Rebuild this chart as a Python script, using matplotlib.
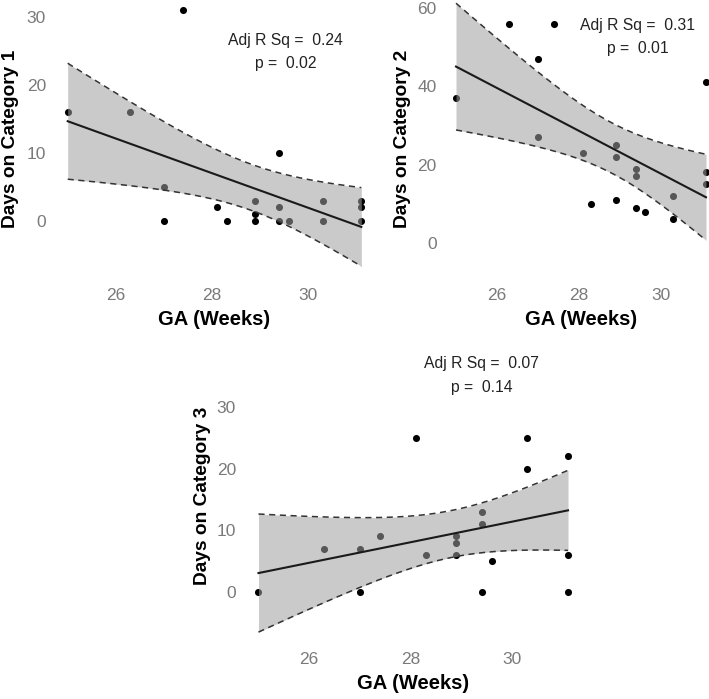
import numpy as np
import matplotlib.pyplot as plt

plt.rcParams['font.family'] = ['Liberation Sans', 'DejaVu Sans']

# GA (weeks) shared by all three panels
ga = [25.0, 26.3, 27.0, 27.0, 27.4, 28.1, 28.3, 28.9, 28.9, 28.9,
      29.4, 29.4, 29.4, 29.6, 30.3, 30.3, 31.1, 31.1, 31.1]

days_cat1 = [16, 16, 5, 0, 31, 2, 0, 3, 1, 0, 10, 2, 0, 0, 3, 0, 3, 2, 0]
days_cat2 = [37, 56, 47, 27, 56, 23, 10, 25, 22, 11, 19, 17, 9, 8, 12, 6, 41, 18, 15]
days_cat3 = [0, 7, 7, 0, 9, 25, 6, 9, 8, 6, 13, 11, 0, 5, 25, 20, 22, 6, 0]

ylabels = ["Days on Category 1", "Days on Category 2", "Days on Category 3"]
adj_r2 = ["0.24", "0.31", "0.07"]
p_vals = ["0.02", "0.01", "0.14"]
yticks = [[0, 10, 20, 30], [0, 20, 40, 60], [0, 10, 20, 30]]

W, H = 709, 699
fig = plt.figure(figsize=(W / 100, H / 100), dpi=100)


def px_axes(left, top, right, bottom):
    return fig.add_axes([left / W, 1 - bottom / H, (right - left) / W, (bottom - top) / H])


# panel boxes in pixels, y limits, annotation positions (data coords)
panels = [
    dict(box=(53, 0, 376, 277), ylim=(-8.24, 32.5), txt=(29.52, 26.6, 23.2)),
    dict(box=(443.5, 0, 718.5, 277), ylim=(-8.67, 62.0), txt=(29.44, 55.6, 49.5)),
    dict(box=(243, 350, 583.5, 641), ylim=(-7.94, 39.2), txt=(29.4, 37.0, 33.1)),
]
series = [days_cat1, days_cat2, days_cat3]

t_crit = 2.1098  # t(0.975, df=17)

for i, (p, y) in enumerate(zip(panels, series)):
    ax = px_axes(*p['box'])
    x = np.array(ga)
    y = np.array(y, dtype=float)
    n = len(x)
    b1, b0 = np.polyfit(x, y, 1)
    resid = y - (b0 + b1 * x)
    s = np.sqrt(np.sum(resid ** 2) / (n - 2))
    sxx = np.sum((x - x.mean()) ** 2)
    xg = np.linspace(x.min(), x.max(), 80)
    yg = b0 + b1 * xg
    se = s * np.sqrt(1 / n + (xg - x.mean()) ** 2 / sxx)
    lo, hi = yg - t_crit * se, yg + t_crit * se

    ax.scatter(x, y, s=26, color='black', zorder=2, linewidths=0)
    ax.fill_between(xg, lo, hi, color='#a0a0a0', alpha=0.55, linewidth=0, zorder=3)
    ax.plot(xg, lo, color='#333333', lw=1.1, ls=(0, (4, 3)), zorder=4)
    ax.plot(xg, hi, color='#333333', lw=1.1, ls=(0, (4, 3)), zorder=4)
    ax.plot(xg, yg, color='#1a1a1a', lw=1.5, zorder=5)

    tx, ty1, ty2 = p['txt']
    ax.text(tx, ty1, "Adj R Sq =  " + adj_r2[i], ha='center', va='center',
            fontsize=11.3, color='#222222', zorder=6)
    ax.text(tx, ty2, "p =  " + p_vals[i], ha='center', va='center',
            fontsize=11.3, color='#222222', zorder=6)

    ax.set_xlim(24.695, 31.405)
    ax.set_ylim(*p['ylim'])
    ax.set_xticks([26, 28, 30])
    ax.set_yticks(yticks[i])
    ax.tick_params(length=0, labelsize=12.5, labelcolor='#7a7a7a')
    ax.tick_params(axis='x', pad=8)
    ax.tick_params(axis='y', pad=5)
    for sp in ax.spines.values():
        sp.set_visible(False)
    ax.set_facecolor('white')

    ax.set_xlabel("GA (Weeks)", fontsize=14.5, fontweight='bold')
    ax.set_ylabel(ylabels[i], fontsize=13.8, fontweight='bold')
    bw = p['box'][2] - p['box'][0]
    bh = p['box'][3] - p['box'][1]
    ylab_right = [19, 411, 211][i]
    ax.yaxis.set_label_coords((ylab_right - p['box'][0]) / bw, 0.5)
    ax.xaxis.set_label_coords(0.5, -33 / bh)

fig.savefig("out.png", dpi=100)
